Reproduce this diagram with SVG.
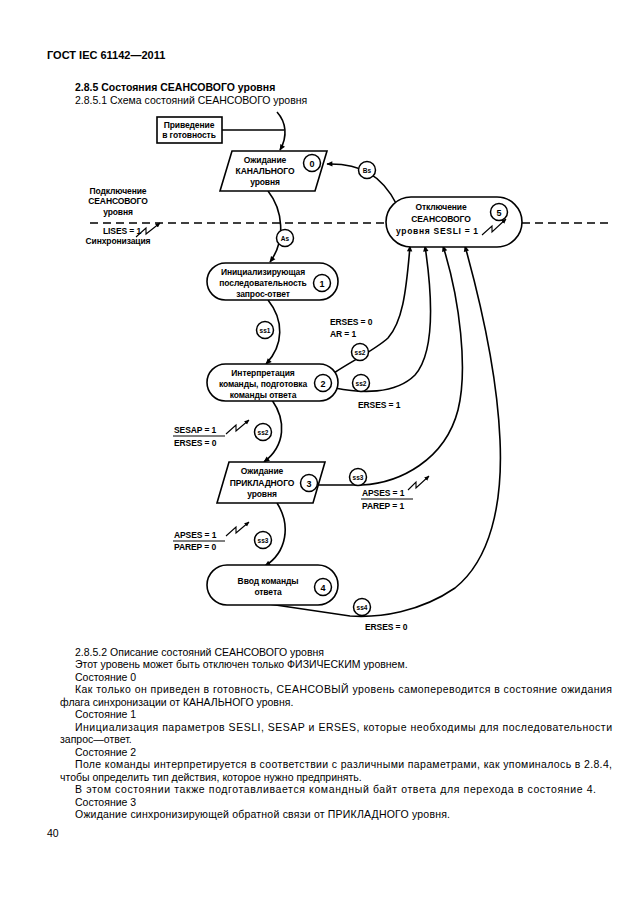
<svg xmlns="http://www.w3.org/2000/svg" width="630" height="913" viewBox="0 0 630 913" xml:space="preserve">
<defs>
<marker id="ah" viewBox="0 0 10 10" refX="9" refY="5" markerWidth="7" markerHeight="6" orient="auto" markerUnits="userSpaceOnUse"><path d="M0,0.5 L10,5 L0,9.5 z" fill="#000"/></marker>
<marker id="lh" viewBox="0 0 10 10" refX="9" refY="5" markerWidth="5" markerHeight="5" orient="auto" markerUnits="userSpaceOnUse"><path d="M0,0.5 L10,5 L0,9.5 z" fill="#000"/></marker>
</defs>
<style>
text{font-family:"Liberation Sans",Arial,sans-serif;fill:#000}
.h{font-size:11px;font-weight:bold}
.t{font-size:10.5px;font-weight:bold}
.p{font-size:10.5px}
.n{font-size:8.5px;font-weight:bold;text-anchor:middle;letter-spacing:-0.1px}
.l{font-size:8.5px;font-weight:bold;letter-spacing:-0.1px}
.c{font-size:9px;font-weight:bold;text-anchor:middle}
.s{font-size:6.5px;font-weight:bold;text-anchor:middle}
.sh{fill:#fff;stroke:#000;stroke-width:1.6}
.cl{fill:#fff;stroke:#000;stroke-width:1.5}
.ln{fill:none;stroke:#000;stroke-width:1.6}
.bolt{fill:none;stroke:#000;stroke-width:1.1}
.dash{fill:none;stroke:#000;stroke-width:1.4;stroke-dasharray:8 5}
</style>
<rect width="630" height="913" fill="#fff"/>

<text class="h" x="47" y="59">ГОСТ IEC 61142—2011</text>
<text class="t" x="75" y="91">2.8.5 Состояния СЕАНСОВОГО уровня</text>
<text class="p" x="75" y="104">2.8.5.1 Схема состояний СЕАНСОВОГО уровня</text>

<g id="connectors">
<path class="dash" d="M90,223 H386"/>
<path class="dash" d="M522,223 H612"/>
<path class="ln" d="M222,130 H284"/>
<path class="ln" d="M277,112 C286,122 288,136 280,150" marker-end="url(#ah)"/>
<path class="ln" d="M268,191 C283,210 286,240 270,262" marker-end="url(#ah)"/>
<path class="ln" d="M268,300 C284,320 284,345 266,364" marker-end="url(#ah)"/>
<path class="ln" d="M272,400 C286,420 286,445 264,462" marker-end="url(#ah)"/>
<path class="ln" d="M277,503 C291,525 287,552 265,566" marker-end="url(#ah)"/>
<path class="ln" d="M397,205 C382,175 360,163 327,164" marker-end="url(#ah)"/>
<path class="ln" d="M334,373 C350,362 375,350 388,338 C402,322 406,295 410,246" marker-end="url(#ah)"/>
<path class="ln" d="M335,388 C360,393 395,395 415,375 C435,352 433,300 425,246" marker-end="url(#ah)"/>
<path class="ln" d="M318,485 L362,485 C400,483 445,460 458,410 C468,370 460,300 443,246" marker-end="url(#ah)"/>
<path class="ln" d="M262,603 L350,616 C380,618 420,612 455,588 C490,560 503,505 500,440 C497,370 480,300 465,246" marker-end="url(#ah)"/>
<line x1="173" y1="436" x2="225" y2="436" stroke="#000" stroke-width="1"/>
<line x1="173" y1="541" x2="225" y2="541" stroke="#000" stroke-width="1"/>
<line x1="361" y1="499" x2="413" y2="499" stroke="#000" stroke-width="1"/>
</g>

<g id="ready">
<rect class="sh" x="157" y="117" width="65" height="26"/>
<text class="n" x="189" y="128">Приведение</text>
<text class="n" x="189" y="138">в готовность</text>
</g>

<g id="state0">
<path class="sh" d="M232,151 H327 L315,191 H220 Z"/>
<text class="n" x="265" y="163">Ожидание</text>
<text class="n" x="265" y="174">КАНАЛЬНОГО</text>
<text class="n" x="265" y="185">уровня</text>
<circle class="cl" cx="312" cy="163" r="8.5"/>
<text class="c" x="312" y="166.5">0</text>
</g>

<g id="state5">
<rect class="sh" x="386" y="197" width="136" height="50" rx="25"/>
<text class="n" x="441" y="210">Отключение</text>
<text class="n" x="441" y="222">СЕАНСОВОГО</text>
<text class="l" x="396" y="234" textLength="82" lengthAdjust="spacing">уровня  SESLI = 1</text>
<circle class="cl" cx="499" cy="212" r="8.5"/>
<text class="c" x="499" y="215.5">5</text>
<path class="bolt" d="M482,235 L492,226 L492,232 L506,219" marker-end="url(#lh)"/>
</g>

<g id="state1">
<rect class="sh" x="207" y="263" width="131" height="37" rx="18.5"/>
<text class="n" x="263" y="275">Инициализирующая</text>
<text class="n" x="263" y="286">последовательность</text>
<text class="n" x="263" y="297">запрос-ответ</text>
<circle class="cl" cx="322" cy="283" r="8.5"/>
<text class="c" x="322" y="286.5">1</text>
</g>

<g id="state2">
<rect class="sh" x="207" y="364" width="131" height="37" rx="18.5"/>
<text class="n" x="263" y="376">Интерпретация</text>
<text class="n" x="263" y="387">команды, подготовка</text>
<text class="n" x="263" y="398">команды ответа</text>
<circle class="cl" cx="323" cy="383" r="8.5"/>
<text class="c" x="323" y="386.5">2</text>
</g>

<g id="state3">
<path class="sh" d="M229,462 H325 L313,503 H217 Z"/>
<text class="n" x="262" y="474">Ожидание</text>
<text class="n" x="262" y="486">ПРИКЛАДНОГО</text>
<text class="n" x="262" y="497">уровня</text>
<circle class="cl" cx="309" cy="483" r="8.5"/>
<text class="c" x="309" y="486.5">3</text>
</g>

<g id="state4">
<rect class="sh" x="207" y="565" width="131" height="40" rx="20"/>
<text class="n" x="268" y="584">Ввод команды</text>
<text class="n" x="268" y="595">ответа</text>
<circle class="cl" cx="323" cy="587" r="8.5"/>
<text class="c" x="323" y="590.5">4</text>
</g>

<g id="labels">
<circle class="cl" cx="367" cy="170" r="8.5"/><text class="s" x="367" y="172.5">Bs</text>
<circle class="cl" cx="285" cy="238" r="8.5"/><text class="s" x="285" y="240.5">As</text>
<circle class="cl" cx="265" cy="330" r="8.5"/><text class="s" x="265" y="332.5">ss1</text>
<circle class="cl" cx="360" cy="352" r="8.5"/><text class="s" x="360" y="354.5">ss2</text>
<circle class="cl" cx="361" cy="383" r="8.5"/><text class="s" x="361" y="385.5">ss2</text>
<circle class="cl" cx="263" cy="432" r="8.5"/><text class="s" x="263" y="434.5">ss2</text>
<circle class="cl" cx="358" cy="477" r="8.5"/><text class="s" x="358" y="479.5">ss3</text>
<circle class="cl" cx="263" cy="540" r="8.5"/><text class="s" x="263" y="542.5">ss3</text>
<circle class="cl" cx="362" cy="607" r="8.5"/><text class="s" x="362" y="609.5">ss4</text>

<text class="n" x="118" y="194">Подключение</text>
<text class="n" x="118" y="204">СЕАНСОВОГО</text>
<text class="n" x="118" y="215">уровня</text>
<text class="l" x="103" y="234">LISES = 1</text>
<path class="bolt" d="M136,237 L146,228 L146,234 L160,223" marker-end="url(#lh)"/>
<text class="n" x="118" y="244">Синхронизация</text>

<text class="l" x="330" y="325">ERSES = 0</text>
<text class="l" x="330" y="337">AR = 1</text>
<text class="l" x="358" y="408">ERSES = 1</text>

<text class="l" x="174" y="433">SESAP = 1</text>
<path class="bolt" d="M226,434 L236,425 L236,431 L249,420" marker-end="url(#lh)"/>
<text class="l" x="174" y="446">ERSES = 0</text>

<text class="l" x="362" y="496">APSES = 1</text>
<path class="bolt" d="M408,490 L416,482 L416,488 L429,476" marker-end="url(#lh)"/>
<text class="l" x="362" y="509">PAREP = 1</text>

<text class="l" x="174" y="538">APSES = 1</text>
<path class="bolt" d="M226,536 L236,527 L236,533 L249,522" marker-end="url(#lh)"/>
<text class="l" x="174" y="550">PAREP = 0</text>

<text class="l" x="365" y="630">ERSES = 0</text>
</g>

<g id="description">
<text class="p" x="75" y="656">2.8.5.2 Описание состояний СЕАНСОВОГО уровня</text>
<text class="p" x="75" y="668">Этот  уровень может быть отключен только ФИЗИЧЕСКИМ уровнем.</text>
<text class="p" x="75" y="680.5">Состояние  0</text>
<text class="p" x="75" y="693" textLength="537" lengthAdjust="spacing">Как только он приведен в готовность, СЕАНСОВЫЙ уровень самопереводится в состояние ожидания</text>
<text class="p" x="60" y="705.5">флага синхронизации от КАНАЛЬНОГО уровня.</text>
<text class="p" x="75" y="718">Состояние  1</text>
<text class="p" x="75" y="730.5" textLength="537" lengthAdjust="spacing">Инициализация параметров SESLI, SESAP и ERSES, которые необходимы  для  последовательности</text>
<text class="p" x="60" y="743">запрос—ответ.</text>
<text class="p" x="75" y="755.5">Состояние 2</text>
<text class="p" x="75" y="768" textLength="537" lengthAdjust="spacing">Поле команды интерпретируется в соответствии с различными параметрами, как упоминалось в 2.8.4,</text>
<text class="p" x="60" y="780.5">чтобы определить тип действия, которое нужно предпринять.</text>
<text class="p" x="75" y="793" textLength="521" lengthAdjust="spacing">В этом состоянии также  подготавливается командный байт  ответа для  перехода в состояние 4.</text>
<text class="p" x="75" y="805.5">Состояние 3</text>
<text class="p" x="75" y="818" textLength="375" lengthAdjust="spacing">Ожидание синхронизирующей обратной связи  от ПРИКЛАДНОГО уровня.</text>
<text class="p" x="47" y="837">40</text>
</g>
</svg>
